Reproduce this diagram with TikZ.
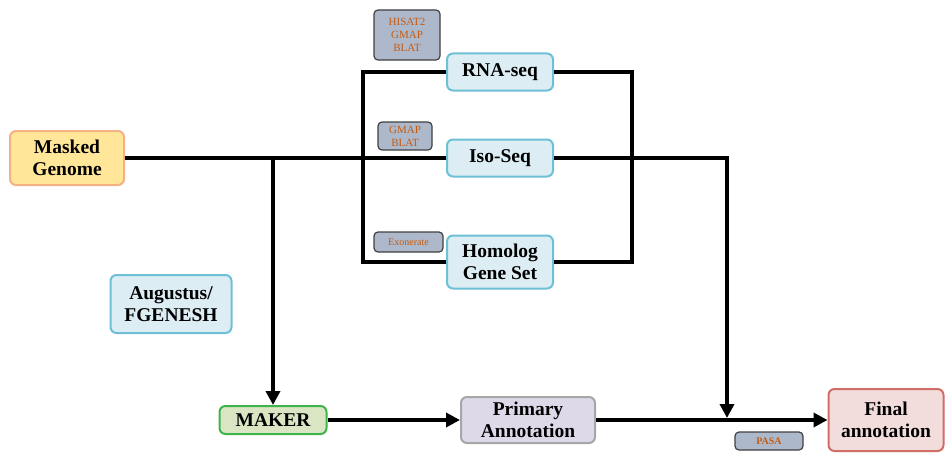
\documentclass[tikz,border=0pt]{standalone}
\usepackage{fontspec}
\setmainfont{Liberation Serif}
\usepackage{tikz}
\usetikzlibrary{arrows.meta,calc}
\definecolor{genomefill}{HTML}{FFE699}
\definecolor{genomeline}{HTML}{F4B183}
\definecolor{seqfill}{HTML}{DCEDF3}
\definecolor{seqline}{HTML}{6DC0D5}
\definecolor{toolfill}{HTML}{ADB9CA}
\definecolor{toolline}{HTML}{404040}
\definecolor{tooltext}{HTML}{C55A11}
\definecolor{makerfill}{HTML}{D9E5C3}
\definecolor{makerline}{HTML}{3DB54A}
\definecolor{primfill}{HTML}{DED9E9}
\definecolor{primline}{HTML}{A6A6A6}
\definecolor{finalfill}{HTML}{F3DDDC}
\definecolor{finalline}{HTML}{D26C67}
\tikzset{
         box/.style={draw,line width=2pt,rounded corners=6pt,align=center,
                     font=\fontsize{19.5}{22}\selectfont\bfseries,inner sep=0pt},
         toolbox/.style={draw=toolline,fill=toolfill,line width=1.2pt,rounded corners=4pt,
                         align=center,text=tooltext,inner sep=0pt,
                         font=\fontsize{11}{13}\selectfont},
         flow/.style={line width=4pt},
         flowarrow/.style={line width=4pt,-{Triangle[length=14pt,width=14pt]}}
        }
\begin{document}
\begin{tikzpicture}[x=1pt,y=-1pt]
\useasboundingbox (0,0) rectangle (949,452);
%inputs
\node[box,fill=genomefill,draw=genomeline,minimum width=114pt,minimum height=54pt] (genome) at (67,158) {Masked\\Genome};
\node[box,fill=seqfill,draw=seqline,minimum width=106pt,minimum height=37pt] (rnaseq) at (500,72) {RNA-seq};
\node[box,fill=seqfill,draw=seqline,minimum width=106pt,minimum height=37pt] (isoseq) at (500,158) {Iso-Seq};
\node[box,fill=seqfill,draw=seqline,minimum width=106pt,minimum height=53pt] (homolog) at (500,262) {Homolog\\Gene Set};
\node[box,fill=seqfill,draw=seqline,minimum width=121pt,minimum height=58pt] (augustus) at (171,304) {Augustus/\\FGENESH};
%tools
\node[toolbox,minimum width=66pt,minimum height=50pt] (hisat) at (407,35) {HISAT2\\GMAP\\BLAT};
\node[toolbox,minimum width=54pt,minimum height=28pt] (gmap) at (405,136) {GMAP\\BLAT};
\node[toolbox,minimum width=69pt,minimum height=20pt,font=\fontsize{10}{12}\selectfont] (exonerate) at (408.5,242) {Exonerate};
\node[toolbox,minimum width=68pt,minimum height=18pt,font=\fontsize{10}{12}\selectfont\bfseries] (pasa) at (769,441) {PASA};
%outputs
\node[box,fill=makerfill,draw=makerline,minimum width=107pt,minimum height=28pt] (maker) at (273,420) {MAKER};
\node[box,fill=primfill,draw=primline,minimum width=134pt,minimum height=46pt] (primary) at (528,420) {Primary\\Annotation};
\node[box,fill=finalfill,draw=finalline,minimum width=115pt,minimum height=62pt] (final) at (886,420) {Final\\annotation};
%connectors
\coordinate (split) at (273,158);
\coordinate (isoturn) at (727,158);
\coordinate (isomerge) at (727,418);
\draw[flow] (genome.east) -- (isoseq.west);
\draw[flowarrow] (split) -- (maker.north);
\draw[flow] (rnaseq.west) -- (363,72) -- (363,262) -- (homolog.west);
\draw[flow] (rnaseq.east) -- (632,72) -- (632,262) -- (homolog.east);
\draw[flowarrow] (isoseq.east) -- (isoturn) -- (isomerge);
\draw[flowarrow] (maker.east) -- (primary.west);
\draw[flowarrow] (primary.east) -- (final.west);
\end{tikzpicture}
\end{document}
